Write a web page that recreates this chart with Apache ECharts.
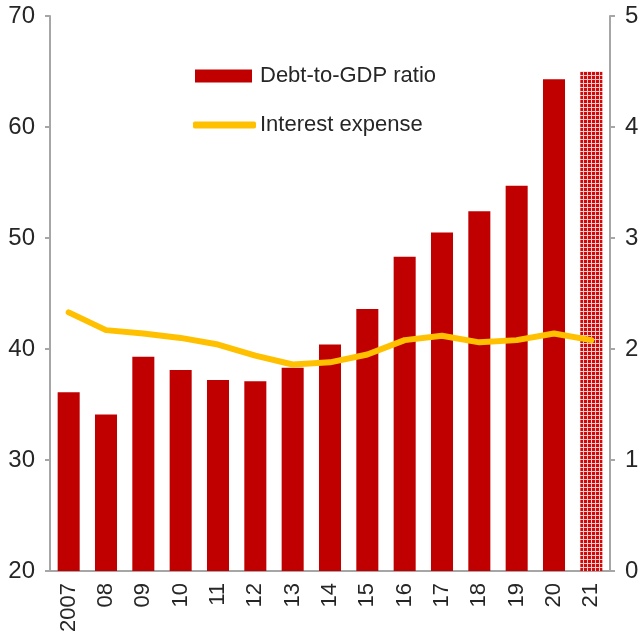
<!DOCTYPE html>
<html>
<head>
<meta charset="utf-8">
<script src="https://cdn.jsdelivr.net/npm/echarts@6/dist/echarts.min.js"></script>
<style>
  html, body { margin: 0; padding: 0; background: #fff; }
  #chart { width: 643px; height: 640px; }
</style>
</head>
<body>
<div id="chart"></div>
<script>
// 年份
const years = ["2007", "08", "09", "10", "11", "12", "13", "14", "15", "16", "17", "18", "19", "20", "21"];
// 债务/GDP（左轴）
const debtRatio = [36.1, 34.1, 39.3, 38.1, 37.2, 37.1, 38.3, 40.4, 43.6, 48.3, 50.5, 52.4, 54.7, 64.3, 65.0];
// 利息支出（右轴）
const interestExp = [2.33, 2.17, 2.14, 2.10, 2.04, 1.94, 1.86, 1.88, 1.95, 2.08, 2.12, 2.06, 2.08, 2.14, 2.08];
const leftTicks = [20, 30, 40, 50, 60, 70];
const rightTicks = [0, 1, 2, 3, 4, 5];

// 预测年份的格子填充
const pat = document.createElement("canvas");
pat.width = 4;
pat.height = 4;
const pctx = pat.getContext("2d");
pctx.fillStyle = "#d40808";
pctx.fillRect(0, 0, 4, 4);
pctx.fillStyle = "#f7cccc";
pctx.fillRect(3, 0, 1, 4);
pctx.fillRect(0, 3, 4, 1);

const RED = "#c00000";
const GOLD = "#ffc000";
const AXIS = "#a6a6a6";
const TXT = "#262626";

const chart = echarts.init(document.getElementById("chart"));
chart.setOption({
  animation: false,
  textStyle: { fontFamily: "Liberation Sans, Arial, sans-serif" },
  grid: { left: 50, right: 33, top: 16, bottom: 69 },
  legend: [
    {
      data: [{ name: "Debt-to-GDP ratio", icon: "rect" }],
      left: 190, top: 60,
      itemWidth: 57, itemHeight: 13, itemGap: 0,
      textStyle: { fontSize: 22, color: TXT, padding: [0, 0, 0, 3] }
    },
    {
      data: [{ name: "Interest expense", icon: "roundRect" }],
      left: 188, top: 109,
      itemWidth: 63, itemHeight: 7,
      textStyle: { fontSize: 22, color: TXT, padding: [0, 0, 0, -1] }
    }
  ],
  xAxis: {
    type: "category",
    data: years,
    axisLine: { lineStyle: { color: AXIS, width: 2 } },
    axisTick: { inside: true, length: 6, lineStyle: { color: AXIS, width: 2 } },
    axisLabel: { rotate: 90, fontSize: 22, color: TXT, margin: 12 }
  },
  yAxis: [
    {
      type: "value", min: leftTicks[0], max: leftTicks[leftTicks.length - 1], interval: 10,
      axisLine: { show: true, lineStyle: { color: AXIS, width: 2 } },
      axisTick: { show: true, length: 5, lineStyle: { color: AXIS, width: 2 } },
      axisLabel: { fontSize: 24, color: TXT, margin: 15 },
      splitLine: { show: false }
    },
    {
      type: "value", min: rightTicks[0], max: rightTicks[rightTicks.length - 1], interval: 1,
      axisLine: { show: true, lineStyle: { color: AXIS, width: 2 } },
      axisTick: { show: true, length: 5, lineStyle: { color: AXIS, width: 2 } },
      axisLabel: { fontSize: 24, color: TXT, margin: 15 },
      splitLine: { show: false }
    }
  ],
  series: [
    {
      name: "Debt-to-GDP ratio",
      type: "bar",
      yAxisIndex: 0,
      barWidth: "59%",
      itemStyle: { color: RED },
      data: debtRatio.map((v, i) =>
        i === debtRatio.length - 1
          ? { value: v, itemStyle: { color: { image: pat, repeat: "repeat" } } }
          : v
      )
    },
    {
      name: "Interest expense",
      type: "line",
      yAxisIndex: 1,
      symbol: "none",
      lineStyle: { color: GOLD, width: 6, cap: "round", join: "round" },
      itemStyle: { color: GOLD },
      data: interestExp,
      z: 3
    }
  ]
});
</script>
</body>
</html>
